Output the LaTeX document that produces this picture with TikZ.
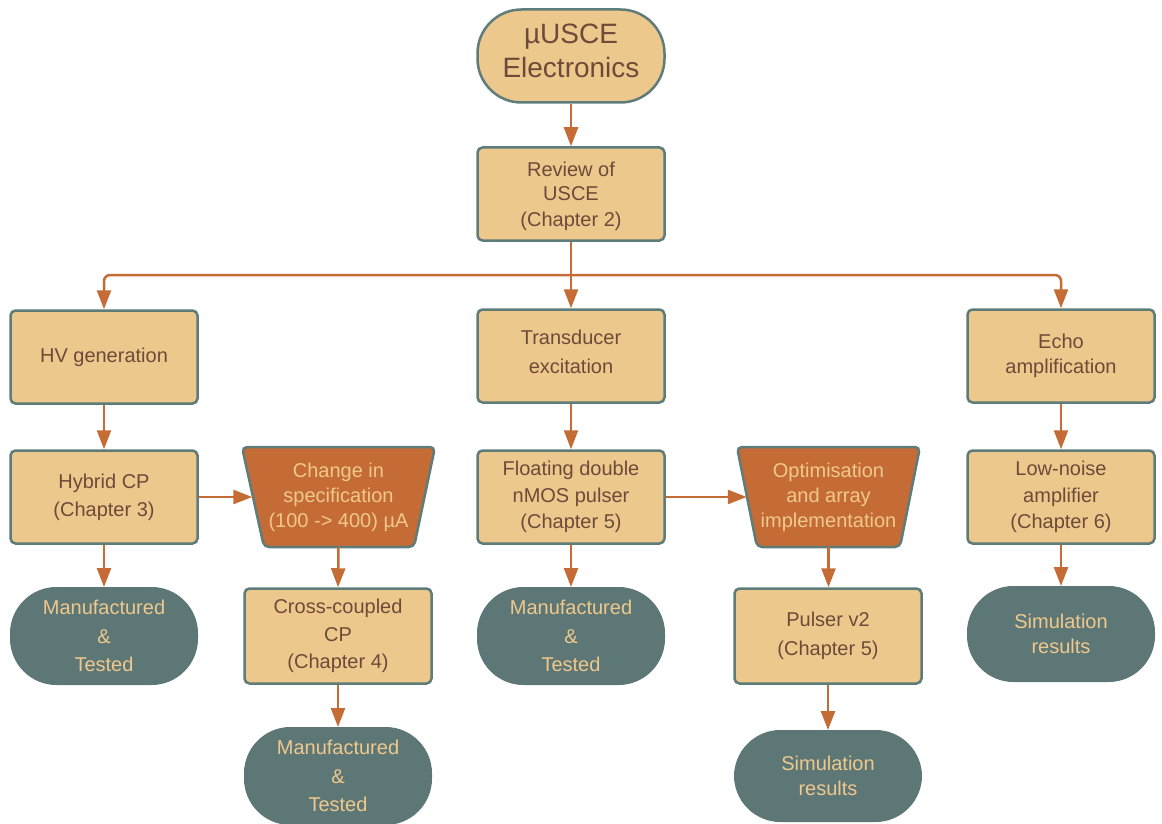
\documentclass[tikz,border=0pt]{standalone}
\usepackage{fontspec}
\setmainfont{Liberation Sans}
\usetikzlibrary{arrows.meta}
\definecolor{boxfill}{HTML}{ECC88C}
\definecolor{boxline}{HTML}{5E7C7A}
\definecolor{boxtext}{HTML}{6E4A3A}
\definecolor{orng}{HTML}{C56B35}
\definecolor{teal}{HTML}{5D7676}
\definecolor{lighttext}{HTML}{EFC98C}
\tikzset{
  box/.style={rectangle, rounded corners=5pt, draw=boxline, line width=2.5pt, fill=boxfill,
    minimum width=187pt, minimum height=93pt, inner sep=0pt, align=center, text=boxtext,
    font=\fontsize{20}{25}\selectfont},
  startnode/.style={box, rounded corners=44pt, font=\fontsize{28}{34}\selectfont},
  term/.style={rectangle, rounded corners=46pt, fill=teal, draw=teal, line width=1pt,
    minimum width=187pt, minimum height=97pt, inner sep=0pt, align=center, text=lighttext,
    font=\fontsize{20}{25}\selectfont},
  trapdraw/.style={draw=boxline, line width=2.5pt, fill=orng, rounded corners=5pt},
  traptext/.style={rectangle, inner sep=0pt, minimum height=100pt, align=center, text=lighttext,
    font=\fontsize{20}{25}\selectfont},
  arr/.style={draw=orng, line width=2.5pt, -{Triangle[width=14pt,length=19pt]}},
}
\begin{document}
\begin{tikzpicture}[x=1pt,y=-1pt]
\useasboundingbox (0,0) rectangle (1162,824);
\node[startnode] (top) at (571,56) {\raisebox{2pt}[\height][\depth]{\begin{tabular}{@{}c@{}}µUSCE\\Electronics\end{tabular}}};
\node[box] (rev) at (571,194) {\raisebox{-2pt}[\height][\depth]{\begin{tabular}{@{}c@{}}Review of\\USCE\\(Chapter 2)\end{tabular}}};
\node[box] (hv) at (104,357) {HV generation};
\node[box, font=\fontsize{20}{29}\selectfont] (tr) at (571,356) {\raisebox{3pt}[\height][\depth]{\begin{tabular}{@{}c@{}}Transducer\\excitation\end{tabular}}};
\node[box] (echo) at (1061,356) {Echo\\amplification};
\node[box, font=\fontsize{20}{28}\selectfont] (hyb) at (104,497) {Hybrid CP\\(Chapter 3)};
\draw[trapdraw] (242,447) -- (435,447) -- (414,547) -- (264,547) -- cycle;
\node[traptext, minimum width=172pt] (chg) at (338.5,497) {Change in\\specification\\(100 -> 400) µA};
\node[box, font=\fontsize{20}{26.5}\selectfont] (flo) at (571,497) {Floating double\\nMOS pulser\\(Chapter 5)};
\draw[trapdraw] (737,447) -- (920,447) -- (900,547) -- (757,547) -- cycle;
\node[traptext, minimum width=163pt] (opt) at (828.5,497) {Optimisation\\and array\\implementation};
\node[box, font=\fontsize{20}{26.5}\selectfont] (low) at (1061,497) {Low-noise\\amplifier\\(Chapter 6)};
\node[term, font=\fontsize{20}{28.5}\selectfont] (man1) at (104,636) {Manufactured\\\&\\Tested};
\node[box, minimum height=95pt, font=\fontsize{20}{27.5}\selectfont] (cc) at (338,636) {Cross-coupled\\CP\\(Chapter 4)};
\node[term, font=\fontsize{20}{28.5}\selectfont] (man3) at (571,636) {Manufactured\\\&\\Tested};
\node[box, minimum height=95pt, font=\fontsize{20}{29}\selectfont] (pv2) at (828,636) {Pulser v2\\(Chapter 5)};
\node[term, minimum height=95pt] (sim2) at (1061,634) {Simulation\\results};
\node[term, font=\fontsize{20}{28.5}\selectfont] (man2) at (338,776) {Manufactured\\\&\\Tested};
\node[term, minimum height=91pt] (sim1) at (828,776) {Simulation\\results};
\coordinate (junc) at (571,275);
\draw[arr] (top) -- (rev);
\draw[draw=orng, line width=2.5pt] (rev.south) -- (junc);
\draw[arr, rounded corners=6pt] (junc) -| (hv.north);
\draw[arr, rounded corners=6pt] (junc) -| (echo.north);
\draw[arr] (junc) -- (tr.north);
\draw[arr] (hv) -- (hyb);
\draw[arr] (tr) -- (flo);
\draw[arr] (echo) -- (low);
\draw[arr] (hyb.east) -- (chg.west);
\draw[arr] (flo.east) -- (opt.west);
\draw[arr] (hyb) -- (man1);
\draw[arr] (chg.south) -- (cc.north);
\draw[arr] (cc) -- (man2);
\draw[arr] (flo) -- (man3);
\draw[arr] (opt.south) -- (opt.south |- pv2.north);
\draw[arr] (pv2) -- (sim1);
\draw[arr] (low) -- (sim2);
\end{tikzpicture}
\end{document}
